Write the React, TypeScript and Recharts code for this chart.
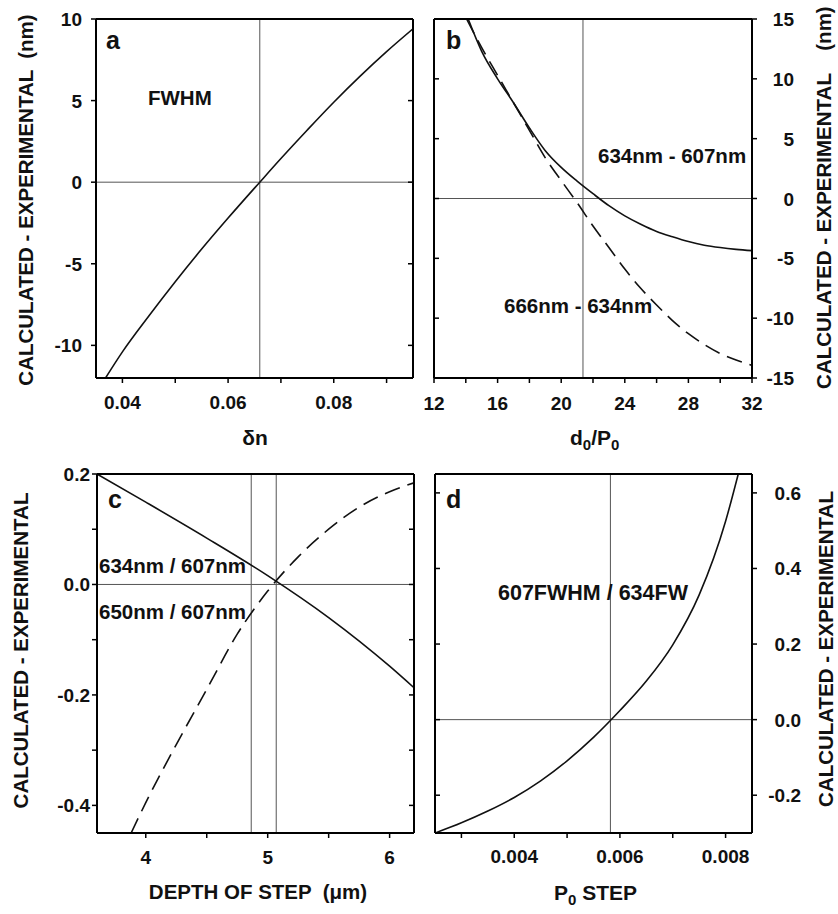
import { LineChart, Line, XAxis, YAxis, ReferenceLine } from 'recharts'

const FONT = '"Liberation Sans", Arial, Helvetica, sans-serif'
const INK = '#111'

// panel a : FWHM vs delta n
const aX = [0.0368, 0.04, 0.045, 0.05, 0.055, 0.06, 0.066, 0.07, 0.075, 0.08, 0.085, 0.09, 0.095]
const aFwhm = [-12, -10.4, -8.2, -6.1, -4.1, -2.2, 0, 1.45, 3.2, 4.9, 6.5, 8.0, 9.4]

// panel b : d0/P0
const bSolidX = [14.15, 15, 16, 17, 18, 19, 20, 21, 22, 23, 24, 25, 26, 27, 28, 29, 30, 31, 32]
const bSolid = [15, 12.3, 10.0, 8.0, 5.9, 4.0, 2.6, 1.45, 0.4, -0.6, -1.45, -2.15, -2.75, -3.2, -3.6, -3.9, -4.1, -4.25, -4.36]
const bDashX = [14.05, 15, 16, 17, 18, 19, 20, 21, 22, 23, 24, 25, 26, 27, 28, 29, 30, 31, 32]
const bDash = [15, 12.6, 10.3, 8.0, 5.7, 3.4, 1.5, -0.35, -2.3, -4.1, -5.9, -7.5, -8.9, -10.2, -11.3, -12.2, -12.95, -13.5, -13.95]

// panel c : depth of step
const cSolidX = [3.6, 4.0, 4.5, 5.0, 5.5, 6.0, 6.2]
const cSolid = [0.2, 0.149, 0.084, 0.016, -0.06, -0.148, -0.187]
const cDashX = [3.88, 4.0, 4.25, 4.5, 4.75, 5.0, 5.25, 5.5, 5.75, 6.0, 6.2]
const cDash = [-0.45, -0.395, -0.29, -0.19, -0.09, -0.012, 0.05, 0.1, 0.14, 0.168, 0.184]

// panel d : P0 step
const dX = [0.0025, 0.003, 0.0035, 0.004, 0.0045, 0.005, 0.0055, 0.006, 0.0065, 0.007, 0.0075, 0.008, 0.00824]
const dRatio = [-0.3, -0.273, -0.242, -0.206, -0.162, -0.109, -0.047, 0.024, 0.102, 0.198, 0.33, 0.525, 0.65]

const rows = (xs: number[], ys: number[]) => xs.map((x, i) => ({ x, y: ys[i] }))

type Side = 'bottom' | 'top' | 'left' | 'right'

const makeTick =
  (side: Side, inward: boolean, labels: number[] = [], fmt: (v: number) => string = String, off = 0) =>
  (props: any) => {
    const { x, y, payload } = props
    const v = payload.value as number
    const len = 5
    const d = inward ? -1 : 1
    const show = labels.some((l) => Math.abs(l - v) < 1e-9)
    const ts = { fontFamily: FONT, fontWeight: 700, fontSize: 19, fill: INK }
    if (side === 'bottom' || side === 'top') {
      const s = side === 'bottom' ? d : -d
      return (
        <g>
          <line x1={x} y1={y} x2={x} y2={y + s * len} stroke="#000" strokeWidth={1.5} />
          {show && (
            <text x={x} y={y + off} textAnchor="middle" style={ts}>
              {fmt(v)}
            </text>
          )}
        </g>
      )
    }
    const s = side === 'right' ? d : -d
    return (
      <g>
        <line x1={x} y1={y} x2={x + s * len} y2={y} stroke="#000" strokeWidth={1.5} />
        {show && (
          <text x={x + off} y={y + 7} textAnchor="end" style={ts}>
            {fmt(v)}
          </text>
        )}
      </g>
    )
  }

const axisStroke = { stroke: '#000', strokeWidth: 2 }
const curve = { dot: false, isAnimationActive: false, stroke: INK, strokeWidth: 1.6, type: 'monotone' as const }
const dashed = { ...curve, strokeDasharray: '16 8' }
const refStyle = { stroke: '#555', strokeWidth: 1 }

const box = (left: number, top: number): React.CSSProperties => ({ position: 'absolute', left, top })

const txt = { fontFamily: FONT, fontWeight: 700, fill: INK, whiteSpace: 'pre' } as React.CSSProperties

export default function App() {
  return (
    <div style={{ position: 'absolute', left: 0, top: 0, width: 838, height: 914, background: '#fff' }}>
      {/* a */}
      <div style={box(0, 0)}>
        <LineChart width={419} height={455} margin={{ top: 0, right: 0, bottom: 0, left: 0 }}>
          <XAxis type="number" dataKey="x" domain={[0.035, 0.095]} allowDataOverflow
            ticks={[0.04, 0.05, 0.06, 0.07, 0.08, 0.09]} interval={0} height={77}
            axisLine={axisStroke} tickLine={false} tickSize={0} tickMargin={0}
            tick={makeTick('bottom', false, [0.04, 0.06, 0.08], (v) => v.toFixed(2), 31)} />
          <XAxis xAxisId="top" orientation="top" type="number" domain={[0.035, 0.095]} allowDataOverflow
            ticks={[0.04, 0.05, 0.06, 0.07, 0.08, 0.09]} interval={0} height={19}
            axisLine={axisStroke} tickLine={false} tickSize={0} tickMargin={0}
            tick={makeTick('top', true)} />
          <YAxis type="number" domain={[-12, 10]} allowDataOverflow ticks={[-10, -5, 0, 5, 10]} interval={0}
            width={96} axisLine={axisStroke} tickLine={false} tickSize={0} tickMargin={0}
            tick={makeTick('left', false, [-10, -5, 0, 5, 10], String, -14)} />
          <YAxis yAxisId="right" orientation="right" type="number" domain={[-12, 10]} allowDataOverflow
            ticks={[-10, -5, 0, 5, 10]} interval={0} width={6} axisLine={axisStroke} tickLine={false}
            tickSize={0} tickMargin={0} tick={makeTick('right', true)} />
          <ReferenceLine x={0.066} {...refStyle} />
          <ReferenceLine y={0} {...refStyle} />
          <Line data={rows(aX, aFwhm)} dataKey="y" {...curve} />
        </LineChart>
      </div>

      {/* b */}
      <div style={box(419, 0)}>
        <LineChart width={419} height={455} margin={{ top: 0, right: 0, bottom: 0, left: 0 }}>
          <XAxis type="number" dataKey="x" domain={[12, 32]} allowDataOverflow
            ticks={[12, 14, 16, 18, 20, 22, 24, 26, 28, 30, 32]} interval={0} height={77}
            axisLine={axisStroke} tickLine={false} tickSize={0} tickMargin={0}
            tick={makeTick('bottom', false, [12, 16, 20, 24, 28, 32], String, 32)} />
          <XAxis xAxisId="top" orientation="top" type="number" domain={[12, 32]} allowDataOverflow
            ticks={[14, 16, 18, 20, 22, 24, 26, 28, 30]} interval={0} height={19}
            axisLine={axisStroke} tickLine={false} tickSize={0} tickMargin={0}
            tick={makeTick('top', true)} />
          <YAxis type="number" domain={[-15, 15]} allowDataOverflow ticks={[-10, -5, 0, 5, 10]} interval={0}
            width={15} axisLine={axisStroke} tickLine={false} tickSize={0} tickMargin={0}
            tick={makeTick('left', true)} />
          <YAxis yAxisId="right" orientation="right" type="number" domain={[-15, 15]} allowDataOverflow
            ticks={[-15, -10, -5, 0, 5, 10, 15]} interval={0} width={86} axisLine={axisStroke} tickLine={false}
            tickSize={0} tickMargin={0}
            tick={makeTick('right', false, [-15, -10, -5, 0, 5, 10, 15], String, 42)} />
          <ReferenceLine x={21.37} {...refStyle} />
          <ReferenceLine y={0} {...refStyle} />
          <Line data={rows(bSolidX, bSolid)} dataKey="y" {...curve} />
          <Line data={rows(bDashX, bDash)} dataKey="y" {...dashed} />
        </LineChart>
      </div>

      {/* c */}
      <div style={box(0, 455)}>
        <LineChart width={419} height={459} margin={{ top: 0, right: 0, bottom: 0, left: 0 }}>
          <XAxis type="number" dataKey="x" domain={[3.6, 6.2]} allowDataOverflow
            ticks={[4, 4.5, 5, 5.5, 6]} interval={0} height={81}
            axisLine={axisStroke} tickLine={false} tickSize={0} tickMargin={0}
            tick={makeTick('bottom', false, [4, 5, 6], String, 31)} />
          <XAxis xAxisId="top" orientation="top" type="number" domain={[3.6, 6.2]} allowDataOverflow
            ticks={[4, 4.5, 5, 5.5, 6]} interval={0} height={19}
            axisLine={axisStroke} tickLine={false} tickSize={0} tickMargin={0}
            tick={makeTick('top', true)} />
          <YAxis type="number" domain={[-0.45, 0.2]} allowDataOverflow
            ticks={[-0.4, -0.3, -0.2, -0.1, 0, 0.1, 0.2]} interval={0}
            width={97} axisLine={axisStroke} tickLine={false} tickSize={0} tickMargin={0}
            tick={makeTick('left', false, [-0.4, -0.2, 0, 0.2], (v) => v.toFixed(1), -7)} />
          <YAxis yAxisId="right" orientation="right" type="number" domain={[-0.45, 0.2]} allowDataOverflow
            ticks={[-0.4, -0.3, -0.2, -0.1, 0, 0.1, 0.2]} interval={0} width={5} axisLine={axisStroke}
            tickLine={false} tickSize={0} tickMargin={0} tick={makeTick('right', true)} />
          <ReferenceLine x={4.865} {...refStyle} />
          <ReferenceLine x={5.07} {...refStyle} />
          <ReferenceLine y={0} {...refStyle} />
          <Line data={rows(cSolidX, cSolid)} dataKey="y" {...curve} />
          <Line data={rows(cDashX, cDash)} dataKey="y" {...dashed} />
        </LineChart>
      </div>

      {/* d */}
      <div style={box(419, 455)}>
        <LineChart width={419} height={459} margin={{ top: 0, right: 0, bottom: 0, left: 0 }}>
          <XAxis type="number" dataKey="x" domain={[0.0025, 0.0085]} allowDataOverflow
            ticks={[0.003, 0.004, 0.005, 0.006, 0.007, 0.008]} interval={0} height={81}
            axisLine={axisStroke} tickLine={false} tickSize={0} tickMargin={0}
            tick={makeTick('bottom', false, [0.004, 0.006, 0.008], (v) => v.toFixed(3), 30)} />
          <XAxis xAxisId="top" orientation="top" type="number" domain={[0.0025, 0.0085]} allowDataOverflow
            ticks={[0.003, 0.004, 0.005, 0.006, 0.007, 0.008]} interval={0} height={19}
            axisLine={axisStroke} tickLine={false} tickSize={0} tickMargin={0}
            tick={makeTick('top', true)} />
          <YAxis type="number" domain={[-0.3, 0.65]} allowDataOverflow ticks={[-0.2, 0, 0.2, 0.4, 0.6]}
            interval={0} width={16} axisLine={axisStroke} tickLine={false} tickSize={0} tickMargin={0}
            tick={makeTick('left', true)} />
          <YAxis yAxisId="right" orientation="right" type="number" domain={[-0.3, 0.65]} allowDataOverflow
            ticks={[-0.2, 0, 0.2, 0.4, 0.6]} interval={0} width={86} axisLine={axisStroke} tickLine={false}
            tickSize={0} tickMargin={0}
            tick={makeTick('right', false, [-0.2, 0, 0.2, 0.4, 0.6], (v) => v.toFixed(1), 49)} />
          <ReferenceLine x={0.00582} {...refStyle} />
          <ReferenceLine y={0} {...refStyle} />
          <Line data={rows(dX, dRatio)} dataKey="y" {...curve} />
        </LineChart>
      </div>

      {/* text layer */}
      <svg width={838} height={914} style={{ position: 'absolute', left: 0, top: 0, pointerEvents: 'none' }}>
        <text x={106} y={49} fontSize={25} style={txt}>a</text>
        <text x={446} y={49} fontSize={25} style={txt}>b</text>
        <text x={108} y={508} fontSize={25} style={txt}>c</text>
        <text x={446} y={508} fontSize={25} style={txt}>d</text>

        <text x={148} y={105} fontSize={20.5} style={txt}>FWHM</text>
        <text x={598} y={163} fontSize={20.5} style={txt}>634nm - 607nm</text>
        <text x={504} y={313} fontSize={20.5} style={txt}>666nm - 634nm</text>
        <text x={99} y={573} fontSize={20.5} style={txt}>634nm / 607nm</text>
        <text x={99} y={619} fontSize={20.5} style={txt}>650nm / 607nm</text>
        <text x={498} y={600} fontSize={21.5} style={txt}>607FWHM / 634FW</text>

        <text transform="translate(33,200) rotate(-90)" textAnchor="middle" fontSize={20.5} style={txt}>
          CALCULATED - EXPERIMENTAL  (nm)
        </text>
        <text transform="translate(831,231) rotate(-90)" textAnchor="middle" fontSize={20.5} style={txt}>
          CALCULATED - EXPERIMENTAL
        </text>
        <text transform="translate(831,28.5) rotate(-90)" textAnchor="middle" fontSize={20.5} style={txt}>
          (nm)
        </text>
        <text transform="translate(28,650.5) rotate(-90)" textAnchor="middle" fontSize={20.5} style={txt}>
          CALCULATED - EXPERIMENTAL
        </text>
        <text transform="translate(833,649) rotate(-90)" textAnchor="middle" fontSize={20.5} style={txt}>
          CALCULATED - EXPERIMENTAL
        </text>

        <text x={255} y={445} textAnchor="middle" fontSize={21} style={txt}>δn</text>
        <text x={594.7} y={445} textAnchor="middle" fontSize={21} style={txt}>
          d<tspan fontSize={15} dy={5}>0</tspan>
          <tspan dy={-5}>/P</tspan>
          <tspan fontSize={15} dy={5}>0</tspan>
        </text>
        <text x={258} y={899} textAnchor="middle" fontSize={20.5} style={txt}>
          DEPTH OF STEP  (μm)
        </text>
        <text x={595.5} y={900} textAnchor="middle" fontSize={21} style={txt}>
          P<tspan fontSize={15} dy={5}>0</tspan>
          <tspan dy={-5}> STEP</tspan>
        </text>
      </svg>
    </div>
  )
}
